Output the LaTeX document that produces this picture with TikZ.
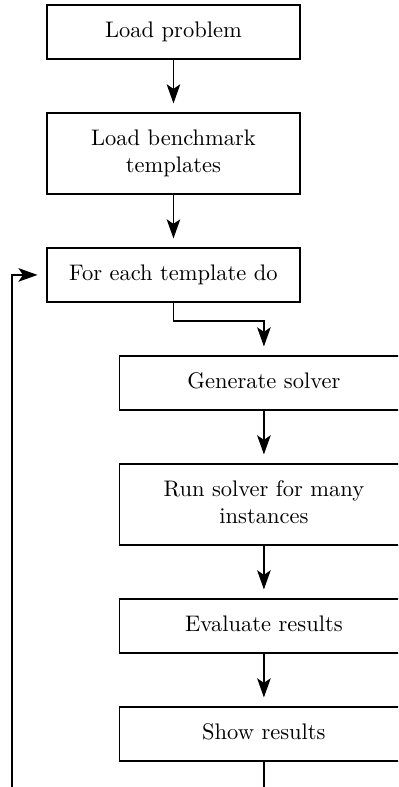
\documentclass[tikz,border=0pt]{standalone}
\usepackage{tikz}
\usetikzlibrary{arrows.meta,positioning}
\tikzset{
    % Basic process box
    procbox/.style={
        rectangle, draw=black, line width=0.8pt,
        text width=100pt, align=flush center,
        inner xsep=6.2pt, inner ysep=6pt,
        execute at begin node=\strut, execute at end node=\strut
    },
    % Wider box for the loop body
    bodybox/.style={procbox, text width=116pt},
    % Flow arrow, stops a bit short of the box
    flowarc/.style={-{Stealth[length=8.5pt,width=6pt,inset=2pt]},
        line width=0.8pt, shorten >=3.8pt},
}

\begin{document}
\begin{tikzpicture}[node distance=23.2pt]
  \clip (0,0) rectangle (176.9pt,-349.8pt);
  % main column
  \node[procbox] (load) at (77.1pt,-14.2pt) {Load problem};
  \node[procbox, below=of load] (bench) {Load benchmark templates};
  \node[procbox, below=of bench] (each) {For each template do};
  % loop body
  \node[bodybox, below=of each, xshift=40.2pt] (gen) {Generate solver};
  \node[bodybox, below=of gen] (run) {Run solver for many instances};
  \node[bodybox, below=of run] (eval) {Evaluate results};
  \node[bodybox, below=of eval] (show) {Show results};
  \draw[flowarc] (load) -- (bench);
  \draw[flowarc] (bench) -- (each);
  \draw[flowarc] (each.south) -- ++(0,-8pt) -| (gen.north);
  \draw[flowarc] (gen) -- (run);
  \draw[flowarc] (run) -- (eval);
  \draw[flowarc] (eval) -- (show);
  % back to the loop head
  \coordinate (rail) at (5.3pt,0);
  \coordinate (ret) at (rail |- each.west);
  \draw[flowarc] (show.south) -- ++(0,-20pt) -| (ret) -- (each.west);
\end{tikzpicture}
\end{document}
